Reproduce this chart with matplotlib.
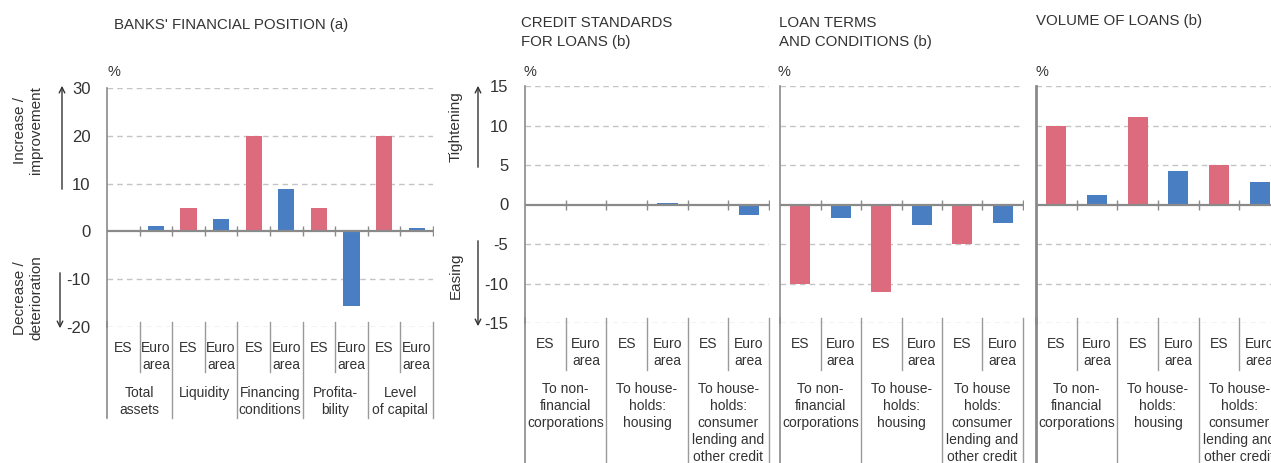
import matplotlib
matplotlib.use("Agg")
import matplotlib.pyplot as plt
from matplotlib import transforms

plt.rcParams['font.family'] = ['Liberation Sans', 'DejaVu Sans']
plt.rcParams['axes.unicode_minus'] = False

W, H = 1271, 463

# ---- data ----
sub_labels = ["ES", "Euro\narea"]

fin_groups = ["Total\nassets", "Liquidity", "Financing\nconditions", "Profita-\nbility", "Level\nof capital"]
fin_es = [0, 5, 20, 5, 20]
fin_ea = [1.2, 2.6, 8.8, -15.6, 0.8]

loan_groups = ["To non-\nfinancial\ncorporations", "To house-\nholds:\nhousing",
               "To house-\nholds:\nconsumer\nlending and\nother credit"]
loan_groups_terms = ["To non-\nfinancial\ncorporations", "To house-\nholds:\nhousing",
                     "To house\nholds:\nconsumer\nlending and\nother credit"]

credit_es = [0, 0, 0]
credit_ea = [0, 0.2, -1.3]
terms_es = [-10, -11.1, -5]
terms_ea = [-1.7, -2.6, -2.3]
volume_es = [10, 11.1, 5]
volume_ea = [1.15, 4.3, 2.8]

fin_ticks = [-20, -10, 0, 10, 20, 30]
loan_ticks = [-15, -10, -5, 0, 5, 10, 15]

RED = '#db6b7d'
BLUE = '#4a7ec2'
TXT = '#333333'
LINE = '#8a8a8a'
GRID = '#c4c4c4'

fig = plt.figure(figsize=(W / 100, H / 100), dpi=100)


def fy(ypx):
    return 1 - ypx / H


def make_ax(x0, x1, ytop, ybot):
    return fig.add_axes([x0 / W, fy(ybot), (x1 - x0) / W, (ybot - ytop) / H])


def panel(ax, es, ea, groups, ticks, ybot, sub_top, grp_top, intra_end, grp_end,
          show_labels, spine_lw=1.2):
    n = len(es)
    xs_es = [2 * i for i in range(n)]
    xs_ea = [2 * i + 1 for i in range(n)]
    ax.bar(xs_es, es, width=0.5, color=RED, zorder=3)
    ax.bar(xs_ea, ea, width=0.5, color=BLUE, zorder=3)
    ax.set_xlim(-0.5, 2 * n - 0.5)
    ax.set_ylim(ticks[0], ticks[-1])
    for t in ticks:
        if t != 0:
            ax.axhline(t, color=GRID, lw=1, ls=(0, (4, 3)), zorder=1)
    ax.axhline(0, color=LINE, lw=1.6, zorder=4)
    bounds = [-0.5 + k for k in range(2 * n + 1)]
    ax.plot(bounds[1:], [0] * (2 * n), ls='none', marker='|', ms=7, mew=1,
            color=LINE, zorder=4)
    for s in ['top', 'right', 'bottom']:
        ax.spines[s].set_visible(False)
    ax.spines['left'].set_color(LINE)
    ax.spines['left'].set_linewidth(spine_lw)
    ax.set_xticks([])
    ax.set_yticks(ticks)
    ax.tick_params(axis='y', length=0, pad=12, labelsize=12, labelcolor=TXT,
                   labelleft=show_labels)

    tr = transforms.blended_transform_factory(ax.transData, fig.transFigure)
    for k, b in enumerate(bounds):
        end = grp_end if k % 2 == 0 else intra_end
        lw = spine_lw if k == 0 else 1
        ax.plot([b, b], [fy(ybot - 5), fy(end)], color=LINE if k == 0 else '#9a9a9a',
                lw=lw, transform=tr, clip_on=False, zorder=2)
    for i in range(n):
        for j, lab in enumerate(sub_labels):
            ax.text(2 * i + j, fy(sub_top), lab, transform=tr, ha='center', va='top',
                    fontsize=10, color=TXT, linespacing=1.25)
        ax.text(2 * i + 0.5, fy(grp_top), groups[i], transform=tr, ha='center',
                va='top', fontsize=10, color=TXT, linespacing=1.27)


ax1 = make_ax(107, 433, 88, 327)
panel(ax1, fin_es, fin_ea, fin_groups, fin_ticks, 327, 341, 386, 372, 418, True)

ax2 = make_ax(525, 769, 86, 323)
panel(ax2, credit_es, credit_ea, loan_groups, loan_ticks, 323, 337, 382, 370, 480, True)

ax3 = make_ax(780, 1023, 86, 323)
panel(ax3, terms_es, terms_ea, loan_groups_terms, loan_ticks, 323, 337, 382, 370, 480, False)

ax4 = make_ax(1036, 1280, 86, 323)
panel(ax4, volume_es, volume_ea, loan_groups, loan_ticks, 323, 337, 382, 370, 480, False,
      spine_lw=2)

# titles
TF = 10.8
fig.text(114 / W, fy(29), "BANKS' FINANCIAL POSITION (a)", fontsize=TF, color=TXT,
         va='baseline')
fig.text(521 / W, fy(27), "CREDIT STANDARDS", fontsize=TF, color=TXT, va='baseline')
fig.text(521 / W, fy(46), "FOR LOANS (b)", fontsize=TF, color=TXT, va='baseline')
fig.text(779 / W, fy(27), "LOAN TERMS", fontsize=TF, color=TXT, va='baseline')
fig.text(779 / W, fy(46), "AND CONDITIONS (b)", fontsize=TF, color=TXT, va='baseline')
fig.text(1036 / W, fy(25), "VOLUME OF LOANS (b)", fontsize=TF, color=TXT, va='baseline')

for x in [107, 524, 778, 1035]:
    fig.text(x / W, fy(72), "%", fontsize=10.5, color=TXT, va='center')

# side labels and arrows
fig.text(28 / W, fy(130), "Increase /\nimprovement", rotation=90, ha='center', va='center',
         fontsize=11, color=TXT, multialignment='center')
fig.text(28 / W, fy(298), "Decrease /\ndeterioration", rotation=90, ha='center',
         va='center', fontsize=11, color=TXT, multialignment='center')
fig.text(456 / W, fy(127), "Tightening", rotation=90, ha='center', va='center',
         fontsize=11, color=TXT)
fig.text(456 / W, fy(276), "Easing", rotation=90, ha='center', va='center',
         fontsize=11, color=TXT)


def arrow(x, y_from, y_to):
    fig.add_artist(matplotlib.patches.FancyArrowPatch(
        (x / W, fy(y_from)), (x / W, fy(y_to)), transform=fig.transFigure,
        arrowstyle='->', mutation_scale=10, lw=1, color=TXT))


arrow(62, 192, 83)
arrow(60, 270, 331)
arrow(478, 170, 83)
arrow(478, 238, 329)

fig.savefig('out.png', dpi=100)
